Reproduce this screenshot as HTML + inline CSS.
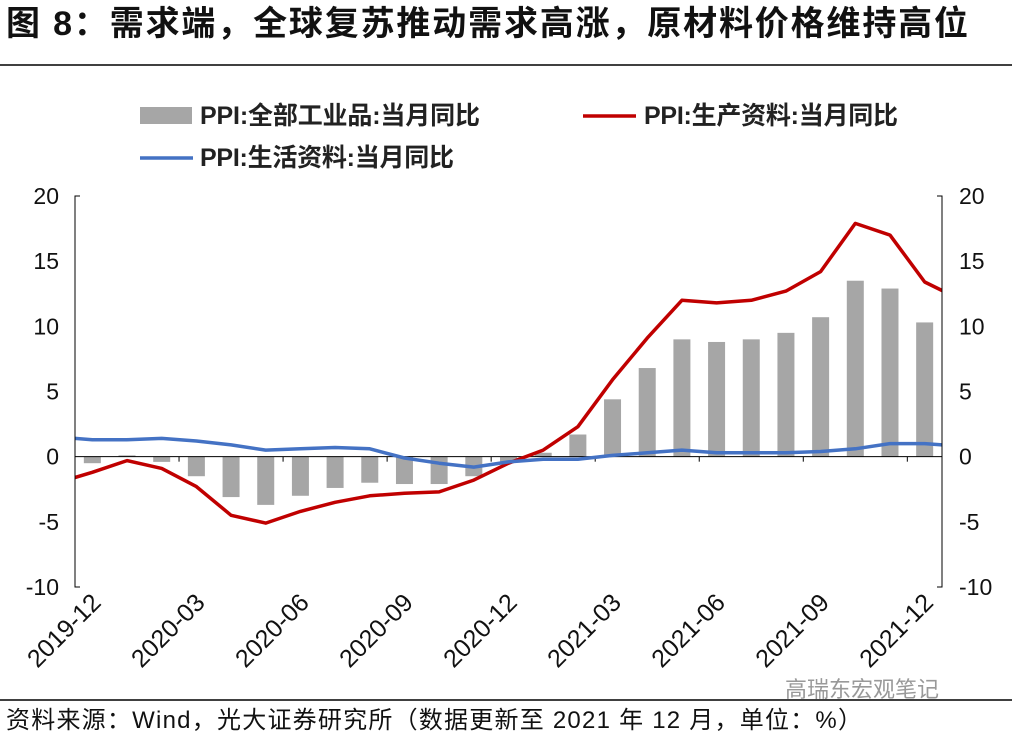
<!DOCTYPE html>
<html><head><meta charset="utf-8"><style>
body{margin:0;background:#fff;}
svg text{font-family:"Liberation Sans","Noto Sans CJK SC",sans-serif;}
</style></head><body>
<svg width="1012" height="740" viewBox="0 0 1012 740" id="svg">
<text x="6" y="35" font-size="34" font-weight="bold" fill="#111" textLength="962">图 8：需求端，全球复苏推动需求高涨，原材料价格维持高位</text>
<line x1="0" y1="65" x2="1012" y2="65" stroke="#000" stroke-width="1.5"/>
<g>
<rect x="140" y="107" width="52" height="17" fill="#a6a6a6"/>
<text x="200" y="124" font-size="25" font-weight="bold" fill="#222" textLength="280">PPI:全部工业品:当月同比</text>
<line x1="583" y1="116" x2="636" y2="116" stroke="#c00000" stroke-width="3.5"/>
<text x="644" y="124" font-size="25" font-weight="bold" fill="#222" textLength="254">PPI:生产资料:当月同比</text>
<line x1="140" y1="158" x2="193" y2="158" stroke="#4472c4" stroke-width="3.5"/>
<text x="200" y="166" font-size="25" font-weight="bold" fill="#222" textLength="254">PPI:生活资料:当月同比</text>
</g>
<g id="plot"></g>
<line x1="0" y1="700" x2="1012" y2="700" stroke="#000" stroke-width="1.5"/>
<text x="785" y="697" font-size="22" fill="#999">高瑞东宏观笔记</text>
<text x="6" y="728" font-size="24" fill="#111" textLength="856">资料来源：Wind，光大证券研究所（数据更新至 2021 年 12 月，单位：%）</text>
</svg>
<script>
const categories=["2019-12","2020-01","2020-02","2020-03","2020-04","2020-05","2020-06","2020-07","2020-08","2020-09","2020-10","2020-11","2020-12","2021-01","2021-02","2021-03","2021-04","2021-05","2021-06","2021-07","2021-08","2021-09","2021-10","2021-11","2021-12"];
const ppiAll=[-0.5,0.1,-0.4,-1.5,-3.1,-3.7,-3.0,-2.4,-2.0,-2.1,-2.1,-1.5,-0.4,0.3,1.7,4.4,6.8,9.0,8.8,9.0,9.5,10.7,13.5,12.9,10.3];
// producer & consumer include one point before and after the visible window (clipped)
const producer=[-2.0,-1.2,-0.3,-0.9,-2.3,-4.5,-5.1,-4.2,-3.5,-3.0,-2.8,-2.7,-1.8,-0.5,0.5,2.3,5.9,9.1,12.0,11.8,12.0,12.7,14.2,17.9,17.0,13.4,12.1];
const consumer=[1.5,1.3,1.3,1.4,1.2,0.9,0.5,0.6,0.7,0.6,-0.1,-0.5,-0.8,-0.4,-0.2,-0.2,0.1,0.3,0.5,0.3,0.3,0.3,0.4,0.6,1.0,1.0,0.8];
const yTicks=[20,15,10,5,0,-5,-10];
const NS="http://www.w3.org/2000/svg";
const L=75,R=942,T=196,B=587,ymin=-10,ymax=20;
const band=(R-L)/categories.length;
function x(i){return L+band*(i+0.5);}
function y(v){return B-(v-ymin)/(ymax-ymin)*(B-T);}
const g=document.getElementById('plot');
function mk(tag,attrs){const e=document.createElementNS(NS,tag);for(const k in attrs)e.setAttribute(k,attrs[k]);g.appendChild(e);return e;}
const defs=mk('defs',{});
const cp=document.createElementNS(NS,'clipPath');cp.setAttribute('id','clip');
const cr=document.createElementNS(NS,'rect');cr.setAttribute('x',L);cr.setAttribute('y',0);cr.setAttribute('width',R-L);cr.setAttribute('height',740);
cp.appendChild(cr);defs.appendChild(cp);
ppiAll.forEach((v,i)=>{
  const r=mk('rect',{x:x(i)-8.5,y:Math.min(y(v),y(0)),width:17,height:Math.abs(y(v)-y(0)),fill:'#a6a6a6'});
  
  
});
const z=mk('line',{x1:L,x2:R,y1:y(0),y2:y(0),stroke:'#000','stroke-width':1});


for(let i=0;i<=categories.length;i+=3){
  const t=mk('line',{x1:L+band*i,x2:L+band*i,y1:y(0),y2:y(0)+5,stroke:'#000'});
  
  
}
function line(data,color,name){
  const pts=data.map((v,k)=>x(k-1).toFixed(1)+','+y(v).toFixed(1)).join(' ');
  const p=mk('polyline',{points:pts,fill:'none',stroke:color,'stroke-width':3.5,'clip-path':'url(#clip)','stroke-linejoin':'round'});
  
  
}
line(producer,'#c00000','line-producer');
line(consumer,'#4472c4','line-consumer');
const la=mk('polyline',{points:`${L+5},${T} ${L},${T} ${L},${B} ${L+5},${B}`,fill:'none',stroke:'#000'});


const ra=mk('polyline',{points:`${R-5},${T} ${R},${T} ${R},${B} ${R-5},${B}`,fill:'none',stroke:'#000'});


yTicks.forEach(v=>{
  const a=mk('text',{x:L-16,y:y(v)+8,'text-anchor':'end','font-size':23,fill:'#111'});a.textContent=v;
  
  
  const b=mk('text',{x:R+17,y:y(v)+8,'font-size':23,fill:'#111'});b.textContent=v;
  
  
});
for(let i=0;i<categories.length;i+=3){
  const xx=x(i)+10,yy=604;
  const t=mk('text',{x:xx,y:yy,'text-anchor':'end','font-size':25,fill:'#111',transform:`rotate(-45 ${xx} ${yy})`});
  t.textContent=categories[i];
  
  
}
</script>
</body></html>
